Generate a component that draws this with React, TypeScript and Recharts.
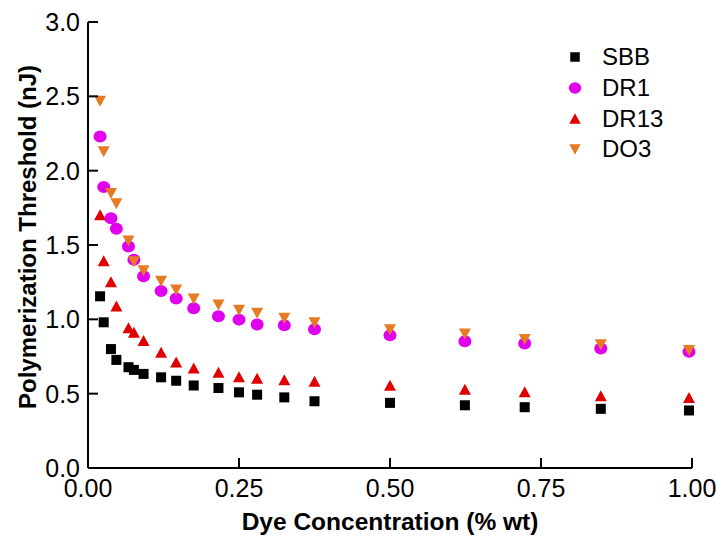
import { Legend, Label, Scatter, ScatterChart, XAxis, YAxis } from 'recharts'

// dye concentration (% wt), shared by all four dyes
const concentration = [
  0.02, 0.026, 0.038, 0.047, 0.067, 0.076, 0.092, 0.121, 0.146, 0.175,
  0.216, 0.25, 0.28, 0.325, 0.375, 0.5, 0.624, 0.723, 0.849, 0.995,
]

// polymerization threshold (nJ)
const sbb = [
  1.155, 0.98, 0.8, 0.727, 0.678, 0.66, 0.633, 0.61, 0.587, 0.555,
  0.538, 0.509, 0.493, 0.475, 0.449, 0.438, 0.422, 0.409, 0.398, 0.387,
]
const dr1 = [
  2.23, 1.89, 1.68, 1.61, 1.49, 1.4, 1.29, 1.19, 1.14, 1.075,
  1.02, 0.998, 0.965, 0.96, 0.933, 0.893, 0.853, 0.838, 0.804, 0.782,
]
const dr13 = [
  1.7, 1.39, 1.25, 1.087, 0.94, 0.909, 0.855, 0.775, 0.71, 0.67,
  0.64, 0.61, 0.6, 0.59, 0.58, 0.553, 0.527, 0.509, 0.482, 0.471,
]
const do3 = [
  2.47, 2.13, 1.85, 1.78, 1.53, 1.39, 1.33, 1.26, 1.2, 1.14,
  1.1, 1.065, 1.045, 1.01, 0.98, 0.933, 0.905, 0.867, 0.833, 0.793,
]

const xTicks = [0, 0.25, 0.5, 0.75, 1]
const yTicks = [0, 0.5, 1, 1.5, 2, 2.5, 3]

type Kind = 'square' | 'circle' | 'up' | 'down'

const series: { name: string; values: number[]; color: string; kind: Kind }[] = [
  { name: 'SBB', values: sbb, color: '#000000', kind: 'square' },
  { name: 'DR1', values: dr1, color: '#e100ee', kind: 'circle' },
  { name: 'DR13', values: dr13, color: '#e00000', kind: 'up' },
  { name: 'DO3', values: do3, color: '#e77b24', kind: 'down' },
]

const FONT = '"Liberation Sans", Arial, sans-serif'

function Marker({ kind, color, cx, cy, s = 1 }: { kind: Kind; color: string; cx: number; cy: number; s?: number }) {
  if (kind === 'square') {
    return <rect x={cx - 5 * s} y={cy - 5 * s} width={10 * s} height={10 * s} fill={color} />
  }
  if (kind === 'circle') {
    return <ellipse cx={cx} cy={cy} rx={6.5 * s} ry={6 * s} fill={color} />
  }
  if (kind === 'up') {
    return (
      <polygon
        points={`${cx},${cy - 6 * s} ${cx + 6 * s},${cy + 5 * s} ${cx - 6 * s},${cy + 5 * s}`}
        fill={color}
      />
    )
  }
  return (
    <polygon
      points={`${cx - 6 * s},${cy - 5 * s} ${cx + 6 * s},${cy - 5 * s} ${cx},${cy + 6 * s}`}
      fill={color}
    />
  )
}

function LeftTick({ x, y, payload }: any) {
  return (
    <g>
      <line x1={x} x2={x + 10} y1={y} y2={y} stroke="#000" strokeWidth={2} />
      <text x={x - 8} y={y} dy={9} textAnchor="end" fontSize={25} fill="#000" fontFamily={FONT}>
        {Number(payload.value).toFixed(1)}
      </text>
    </g>
  )
}

function BottomTick({ x, y, payload }: any) {
  return (
    <g>
      <line x1={x} x2={x} y1={y} y2={y - 10} stroke="#000" strokeWidth={2} />
      <text x={x} y={y + 29} textAnchor="middle" fontSize={25} fill="#000" fontFamily={FONT}>
        {Number(payload.value).toFixed(2)}
      </text>
    </g>
  )
}

function TopTick({ x, y }: any) {
  return <line x1={x} x2={x} y1={y} y2={y + 10} stroke="#000" strokeWidth={2} />
}

function RightTick({ x, y }: any) {
  return <line x1={x} x2={x - 10} y1={y} y2={y} stroke="#000" strokeWidth={2} />
}

function LegendBox() {
  return (
    <div style={{ fontFamily: FONT, fontSize: 24, color: '#000' }}>
      {series.map((s) => (
        <div key={s.name} style={{ display: 'flex', alignItems: 'center', height: 30.7 }}>
          <svg width={40} height={30} style={{ display: 'block' }}>
            <Marker kind={s.kind} color={s.color} cx={13} cy={15} s={0.95} />
          </svg>
          <span style={{ lineHeight: '30px' }}>{s.name}</span>
        </div>
      ))}
    </div>
  )
}

export default function App() {
  return (
    <div style={{ position: 'absolute', left: 0, top: 0, fontFamily: FONT }}>
      <ScatterChart width={717} height={537} margin={{ top: 22, right: 25, bottom: 0, left: 0 }}>
        <XAxis
          xAxisId="bottom"
          type="number"
          dataKey="x"
          domain={[0, 1]}
          ticks={xTicks}
          interval={0}
          height={69}
          tickSize={0}
          tickMargin={0}
          tickLine={false}
          axisLine={{ stroke: '#000', strokeWidth: 2 }}
          tick={<BottomTick />}
        >
          <Label
            content={({ viewBox }: any) => (
              <text
                x={viewBox.x + viewBox.width / 2}
                y={530}
                textAnchor="middle"
                fontSize={24.5}
                fontWeight="bold"
                fill="#000"
                fontFamily={FONT}
              >
                Dye Concentration (% wt)
              </text>
            )}
          />
        </XAxis>
        <XAxis
          xAxisId="top"
          orientation="top"
          type="number"
          dataKey="x"
          domain={[0, 1]}
          ticks={xTicks}
          interval={0}
          height={0}
          tickSize={0}
          tickMargin={0}
          tickLine={false}
          axisLine={{ stroke: '#000', strokeWidth: 2 }}
          tick={<TopTick />}
        />
        <YAxis
          yAxisId="left"
          type="number"
          dataKey="y"
          domain={[0, 3]}
          ticks={yTicks}
          interval={0}
          width={88}
          tickSize={0}
          tickMargin={0}
          tickLine={false}
          axisLine={{ stroke: '#000', strokeWidth: 2 }}
          tick={<LeftTick />}
        >
          <Label
            content={({ viewBox }: any) => (
              <text
                transform={`translate(36,${viewBox.y + viewBox.height / 2 - 8}) rotate(-90)`}
                textAnchor="middle"
                fontSize={24}
                fontWeight="bold"
                fill="#000"
                fontFamily={FONT}
              >
                Polymerization Threshold (nJ)
              </text>
            )}
          />
        </YAxis>
        <YAxis
          yAxisId="right"
          orientation="right"
          type="number"
          dataKey="y"
          domain={[0, 3]}
          ticks={yTicks}
          interval={0}
          width={0}
          tickSize={0}
          tickMargin={0}
          tickLine={false}
          axisLine={{ stroke: '#000', strokeWidth: 2 }}
          tick={<RightTick />}
        />
        <Legend
          layout="vertical"
          align="center"
          verticalAlign="middle"
          content={() => <LegendBox />}
          wrapperStyle={{ left: 562, top: 42, width: 130 }}
        />
        {series.map((s) => (
          <Scatter
            key={s.name}
            name={s.name}
            xAxisId="bottom"
            yAxisId="left"
            data={concentration.map((c, i) => ({ x: c, y: s.values[i] }))}
            isAnimationActive={false}
            shape={(p: any) => <Marker kind={s.kind} color={s.color} cx={p.cx} cy={p.cy} />}
          />
        ))}
      </ScatterChart>
    </div>
  )
}
